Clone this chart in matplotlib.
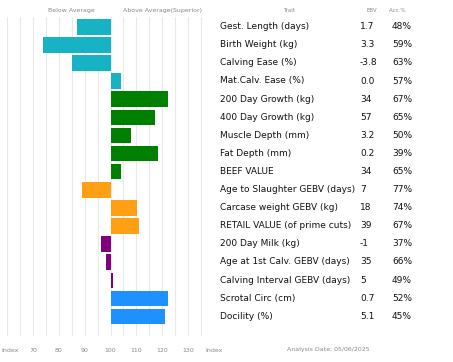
import numpy as np
import matplotlib
matplotlib.use("Agg")
import matplotlib.pyplot as plt
from matplotlib.transforms import ScaledTranslation

traits = ["Gest. Length (days)", "Birth Weight (kg)", "Calving Ease (%)", "Mat.Calv. Ease (%)",
          "200 Day Growth (kg)", "400 Day Growth (kg)", "Muscle Depth (mm)", "Fat Depth (mm)",
          "BEEF VALUE", "Age to Slaughter GEBV (days)", "Carcase weight GEBV (kg)",
          "RETAIL VALUE (of prime cuts)", "200 Day Milk (kg)", "Age at 1st Calv. GEBV (days)",
          "Calving Interval GEBV (days)", "Scrotal Circ (cm)", "Docility (%)"]
ebv = ["1.7", "3.3", "-3.8", "0.0", "34", "57", "3.2", "0.2", "34", "7", "18", "39",
       "-1", "35", "5", "0.7", "5.1"]
acc = ["48%", "59%", "63%", "57%", "67%", "65%", "50%", "39%", "65%", "77%", "74%", "67%",
       "37%", "66%", "49%", "52%", "45%"]
index_vals = [87.2, 74.0, 85.1, 104.1, 122.1, 117.2, 107.9, 118.4, 103.9, 89.0, 110.1, 111.1,
              96.2, 98.1, 101.1, 122.1, 121.2]
groups = ["calving"] * 4 + ["growth"] * 5 + ["carcase"] * 3 + ["maternal"] * 3 + ["other"] * 2
group_colors = {"calving": "#17B3C4", "growth": "#008000", "carcase": "#FFA014",
                "maternal": "#800080", "other": "#1E90FF"}
tick_vals = [60, 70, 80, 90, 100, 110, 120, 130, 140]
tick_labels = ["Index", "70", "80", "90", "100", "110", "120", "130", "Index"]

fig = plt.figure(figsize=(4.53, 3.62), dpi=100)
ax = fig.add_axes([7 / 453, 1 - 336 / 362, 207 / 453, 319 / 362])

y = np.arange(len(traits))
vals = np.array(index_vals)
colors = [group_colors[g] for g in groups]

# vertical grid every 5 index points
for gx in np.arange(60, 141, 5):
    ax.axvline(gx, color="#e8e8e8", lw=0.8, zorder=0)

ax.barh(y, vals - 100, left=100, height=0.86, color=colors, zorder=2)

ax.set_xlim(60, 140)
ax.set_ylim(17.07, -0.54)
ax.set_yticks([])
ax.set_xticks(tick_vals)
ax.set_xticklabels(tick_labels, fontsize=4.5, color="#888888")
ax.tick_params(axis="x", length=0, pad=9)
for s in ax.spines.values():
    s.set_visible(False)

# keep the left "Index" label inside the picture
first = ax.get_xticklabels()[0]
first.set_ha("left")
first.set_transform(first.get_transform() + ScaledTranslation(-6 / 100, 0, fig.dpi_scale_trans))

# headers
ax.text(85, -0.9, "Below Average", ha="center", va="center", fontsize=4.5, color="#888888")
ax.text(120, -0.9, "Above Average(Superior)", ha="center", va="center", fontsize=4.5, color="#888888")

def px(xp):
    return xp / 453

hdr_y = 1 - 11 / 362
fig.text(px(289), hdr_y, "Trait", ha="center", va="center", fontsize=4, color="#888888")
fig.text(px(372), hdr_y, "EBV", ha="center", va="center", fontsize=4, color="#888888")
fig.text(px(397), hdr_y, "Acc %", ha="center", va="center", fontsize=4, color="#888888")

for i in range(len(traits)):
    yf = 1 - (26.7 + 18.1 * i) / 362
    fig.text(px(220), yf, traits[i], ha="left", va="center", fontsize=6.5, color="#111111")
    fig.text(px(360), yf, ebv[i], ha="left", va="center", fontsize=6.5, color="#111111")
    fig.text(px(392), yf, acc[i], ha="left", va="center", fontsize=6.5, color="#111111")

fig.text(px(328), 1 - 350 / 362, "Analysis Date: 05/06/2025", ha="center", va="center",
         fontsize=4.5, color="#888888")

fig.savefig("out.png", dpi=100, facecolor="white")
